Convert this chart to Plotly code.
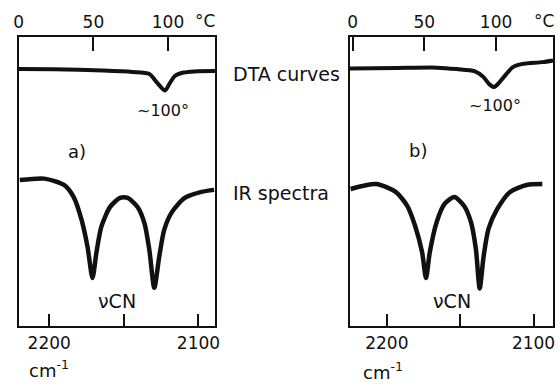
import plotly.graph_objects as go

# ---- Panel a ----
dta_a_temp = [0, 23.7, 56.6, 76.3, 87.5, 92.8, 98.0, 101.3, 104.6, 110.5, 117.8, 131.6]
dta_a_signal = [88.9, 88.8, 88.4, 87.9, 87.2, 84.1, 81.5, 84.1, 86.5, 87.7, 88.1, 88.2]

ir_a_wn = [2219.7, 2203.3, 2190.1, 2183.6, 2178.3, 2174.3, 2171.0, 2168.4, 2165.1, 2159.2, 2152.6,
           2147.4, 2140.8, 2136.2, 2132.9, 2129.6, 2126.3, 2123.0, 2117.8, 2109.2, 2098.0, 2089.5]
ir_a_signal = [50.5, 51.0, 48.8, 44.6, 36.7, 27.3, 16.6, 25.3, 34.3, 41.2, 44.3,
               44.3, 41.2, 35.6, 26.3, 13.2, 23.9, 33.2, 39.4, 44.3, 46.4, 47.1]

# ---- Panel b ----
dta_b_temp = [-2, 31.5, 58.9, 72.6, 84.9, 91.1, 95.2, 98.6, 102.0, 105.5, 111.7, 118.5, 132.2, 139.7]
dta_b_signal = [89.1, 89.3, 89.4, 88.9, 88.2, 86.2, 83.7, 82.7, 84.1, 86.2, 89.6, 90.7, 91.3, 91.9]

ir_b_wn = [2224.7, 2207.3, 2194.0, 2186.0, 2180.7, 2176.0, 2173.3, 2170.7, 2166.0, 2160.7, 2154.0,
           2147.3, 2142.7, 2139.3, 2136.7, 2134.0, 2130.7, 2124.7, 2116.0, 2104.7, 2094.0]
ir_b_signal = [47.4, 49.1, 46.4, 41.5, 34.6, 25.6, 16.6, 25.6, 36.0, 42.2, 44.6,
               41.5, 36.0, 26.6, 13.0, 24.2, 33.6, 40.5, 46.4, 48.8, 49.1]

wn_ticks = [2200, 2150, 2100]
wn_ticktext = ["2200", "", "2100"]
temp_ticks = [0, 50, 100]
temp_ticktext = ["0", "50", "100"]

FONT = "DejaVu Sans"
INK = "#111111"

fig = go.Figure()
line_ir = dict(color=INK, width=4.5, shape="spline", smoothing=0.7)
line_dta = dict(color=INK, width=4, shape="spline", smoothing=0.7)

fig.add_trace(go.Scatter(x=ir_a_wn, y=ir_a_signal, mode="lines", line=line_ir, xaxis="x", yaxis="y"))
fig.add_trace(go.Scatter(x=dta_a_temp, y=dta_a_signal, mode="lines", line=line_dta, xaxis="x2", yaxis="y"))
fig.add_trace(go.Scatter(x=ir_b_wn, y=ir_b_signal, mode="lines", line=line_ir, xaxis="x3", yaxis="y2"))
fig.add_trace(go.Scatter(x=dta_b_temp, y=dta_b_signal, mode="lines", line=line_dta, xaxis="x4", yaxis="y2"))

ydom = [1 - 326 / 386, 1 - 37 / 386]
dom_a = [14 / 560, 214 / 560]
dom_b = [351 / 560, 558 / 560]

tickfont = dict(family=FONT, size=17, color=INK)
common_x = dict(showline=True, linecolor=INK, linewidth=1.5, showgrid=False, zeroline=False,
                ticks="inside", tickcolor=INK, tickwidth=1.5, tickfont=tickfont, tickmode="array")

fig.update_layout(
    width=560, height=386,
    margin=dict(l=0, r=0, t=0, b=0),
    paper_bgcolor="white", plot_bgcolor="white",
    showlegend=False,
    xaxis=dict(common_x, domain=dom_a, range=[2220.4, 2088.8], tickvals=wn_ticks, ticktext=wn_ticktext,
               ticklen=12, anchor="y", side="bottom", mirror=True, ticklabelstandoff=1),
    xaxis2=dict(common_x, domain=dom_a, range=[0, 131.6], tickvals=temp_ticks, ticktext=temp_ticktext,
                ticklen=14, anchor="y", side="top", overlaying="x", ticklabelstandoff=0),
    yaxis=dict(domain=ydom, range=[0, 100], showline=True, linecolor=INK, linewidth=1.5, mirror=True,
               showticklabels=False, ticks="", showgrid=False, zeroline=False, anchor="x"),
    xaxis3=dict(common_x, domain=dom_b, range=[2225.3, 2086.7], tickvals=wn_ticks, ticktext=wn_ticktext,
                ticklen=12, anchor="y2", side="bottom", mirror=True, ticklabelstandoff=1),
    xaxis4=dict(common_x, domain=dom_b, range=[-2, 139.7], tickvals=temp_ticks, ticktext=temp_ticktext,
                ticklen=14, anchor="y2", side="top", overlaying="x3", ticklabelstandoff=0),
    yaxis2=dict(domain=ydom, range=[0, 100], showline=True, linecolor=INK, linewidth=1.5, mirror=True,
                showticklabels=False, ticks="", showgrid=False, zeroline=False, anchor="x3"),
)

def ann(text, x, y, size, xanchor="center"):
    fig.add_annotation(text=text, x=x / 560, y=1 - y / 386, xref="paper", yref="paper",
                       showarrow=False, xanchor=xanchor, yanchor="middle",
                       font=dict(family=FONT, size=size, color=INK))

ann("°C", 204, 21, 17)
ann("°C", 549, 21, 17)
ann("DTA curves", 230, 74, 19, "left")
ann("IR spectra", 230, 193, 19, "left")
ann("~100°", 161, 110, 16)
ann("~100°", 499, 105, 16)
ann("a)", 73, 151, 18)
ann("b)", 420, 150, 18)
ann("νCN", 114, 301, 19)
ann("νCN", 455, 301, 19)
ann("cm<sup>-1</sup>", 22, 369, 18, "left")
ann("cm<sup>-1</sup>", 362, 371, 18, "left")

fig.write_html("out.html", config={"displayModeBar": False})

# remove the default page margin so the figure sits at the window's top-left corner
with open("out.html", encoding="utf-8") as f:
    html = f.read()
html = html.replace("<head>", "<head><style>html,body{margin:0;padding:0;overflow:hidden}</style>", 1)
with open("out.html", "w", encoding="utf-8") as f:
    f.write(html)
